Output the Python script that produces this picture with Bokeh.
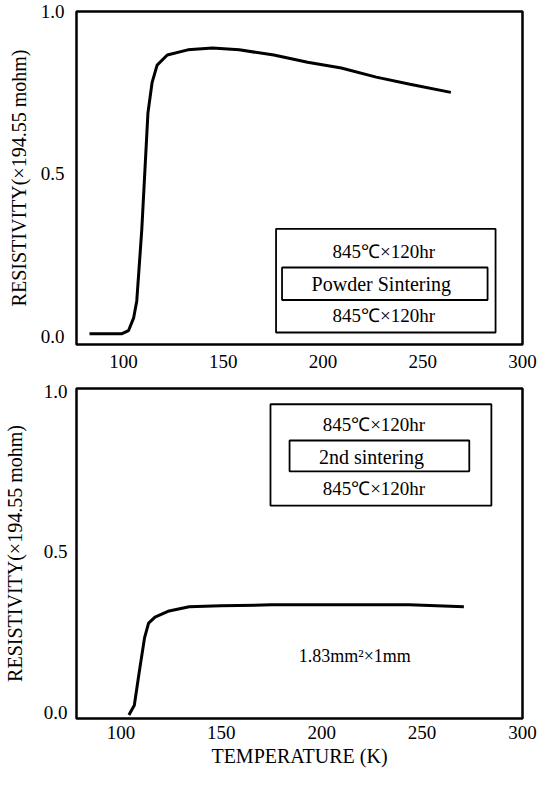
from bokeh.plotting import figure
from bokeh.layouts import column
from bokeh.models import FixedTicker, BoxAnnotation, Label, NumeralTickFormatter
from bokeh.embed import file_html
from bokeh.resources import INLINE

# ---- data ----
temp_powder = [83, 99, 102.6, 105.1, 106.7, 109.2, 112.3, 114.4, 116.9, 122, 132.3,
               144.6, 158, 175.4, 192.3, 209.2, 226.7, 243.6, 264.1]
res_powder = [0.008, 0.008, 0.018, 0.056, 0.109, 0.327, 0.688, 0.782, 0.835, 0.866, 0.882,
              0.888, 0.882, 0.866, 0.844, 0.826, 0.798, 0.776, 0.751]

temp_2nd = [104, 106.7, 109.2, 111.8, 113.8, 117, 124, 134, 149.7, 175, 209, 243.6, 270.8]
res_2nd = [-0.008, 0.022, 0.128, 0.233, 0.278, 0.297, 0.316, 0.329, 0.332, 0.335, 0.335, 0.335, 0.329]

x_ticks = [100, 150, 200, 250, 300]
y_ticks = [0.0, 0.5, 1.0]

cond_text = "845\u2103\u00d7120hr"
top_label = "Powder  Sintering"
bottom_label = "2nd  sintering"
sample_text = "1.83mm\u00b2\u00d71mm"
y_title = "RESISTIVITY(\u00d7194.55 mohm)"
x_title = "TEMPERATURE (K)"

FONT = "Liberation Serif"


def style(p, xstand, ystand, ytitle_stand, xtitle=None):
    p.outline_line_color = "black"
    p.outline_line_width = 2.5
    p.xgrid.visible = False
    p.ygrid.visible = False
    for ax in (p.xaxis[0], p.yaxis[0]):
        ax.axis_line_color = None
        ax.major_tick_line_color = None
        ax.minor_tick_line_color = None
        ax.major_tick_out = 0
        ax.major_tick_in = 0
        ax.minor_tick_out = 0
        ax.major_label_text_font = FONT
        ax.major_label_text_font_size = "19px"
        ax.major_label_text_color = "black"
        ax.axis_label_text_font = FONT
        ax.axis_label_text_font_style = "normal"
        ax.axis_label_text_font_size = "20px"
        ax.axis_label_text_color = "black"
    p.xaxis[0].ticker = FixedTicker(ticks=x_ticks)
    p.yaxis[0].ticker = FixedTicker(ticks=y_ticks)
    p.yaxis[0].formatter = NumeralTickFormatter(format="0.0")
    p.xaxis[0].major_label_standoff = xstand
    p.yaxis[0].major_label_standoff = ystand
    p.yaxis[0].axis_label = y_title
    p.yaxis[0].axis_label_standoff = ytitle_stand
    if xtitle:
        p.xaxis[0].axis_label = xtitle
        p.xaxis[0].axis_label_standoff = 3


def add_legend_box(p, outer, inner, xc, ys, mid_text):
    p.add_layout(BoxAnnotation(left=outer[0], right=outer[1], bottom=outer[2], top=outer[3],
                               fill_color=None, fill_alpha=0, line_color="black",
                               line_alpha=1, line_width=1.8))
    p.add_layout(BoxAnnotation(left=inner[0], right=inner[1], bottom=inner[2], top=inner[3],
                               fill_color=None, fill_alpha=0, line_color="black",
                               line_alpha=1, line_width=1.8))
    for yv, t, fs in zip(ys, [cond_text, mid_text, cond_text], ["19px", "20px", "19px"]):
        p.add_layout(Label(x=xc, y=yv, text=t, text_align="center", text_baseline="middle",
                           text_font=FONT, text_font_size=fs, text_color="black"))


p1 = figure(width=540, height=378, x_range=(76.5, 300), y_range=(-0.025, 1.0),
            output_backend="svg", toolbar_location=None,
            min_border_left=70, min_border_right=18, min_border_top=11, min_border_bottom=34)
style(p1, 10, 12, 8)
p1.line(temp_powder, res_powder, line_color="black", line_width=3)
add_legend_box(p1, (176.5, 286.5, 0.012, 0.331), (179.5, 282.5, 0.112, 0.212),
               230.5, [0.261, 0.162, 0.065], top_label)

p2 = figure(width=540, height=397, x_range=(77.9, 300), y_range=(-0.019, 1.009),
            output_backend="svg", toolbar_location=None,
            min_border_left=72, min_border_right=18, min_border_top=10, min_border_bottom=57)
style(p2, 7, 9, 15, x_title)
p2.line(temp_2nd, res_2nd, line_color="black", line_width=3)
add_legend_box(p2, (174.5, 284.5, 0.644, 0.960), (184, 273.5, 0.751, 0.847),
               226, [0.897, 0.796, 0.697], bottom_label)
p2.add_layout(Label(x=216.5, y=0.176, text=sample_text, text_align="center", text_baseline="middle",
                    text_font=FONT, text_font_size="18px", text_color="black"))

layout = column(p1, p2)
open("out.html", "w").write(file_html(layout, INLINE))
